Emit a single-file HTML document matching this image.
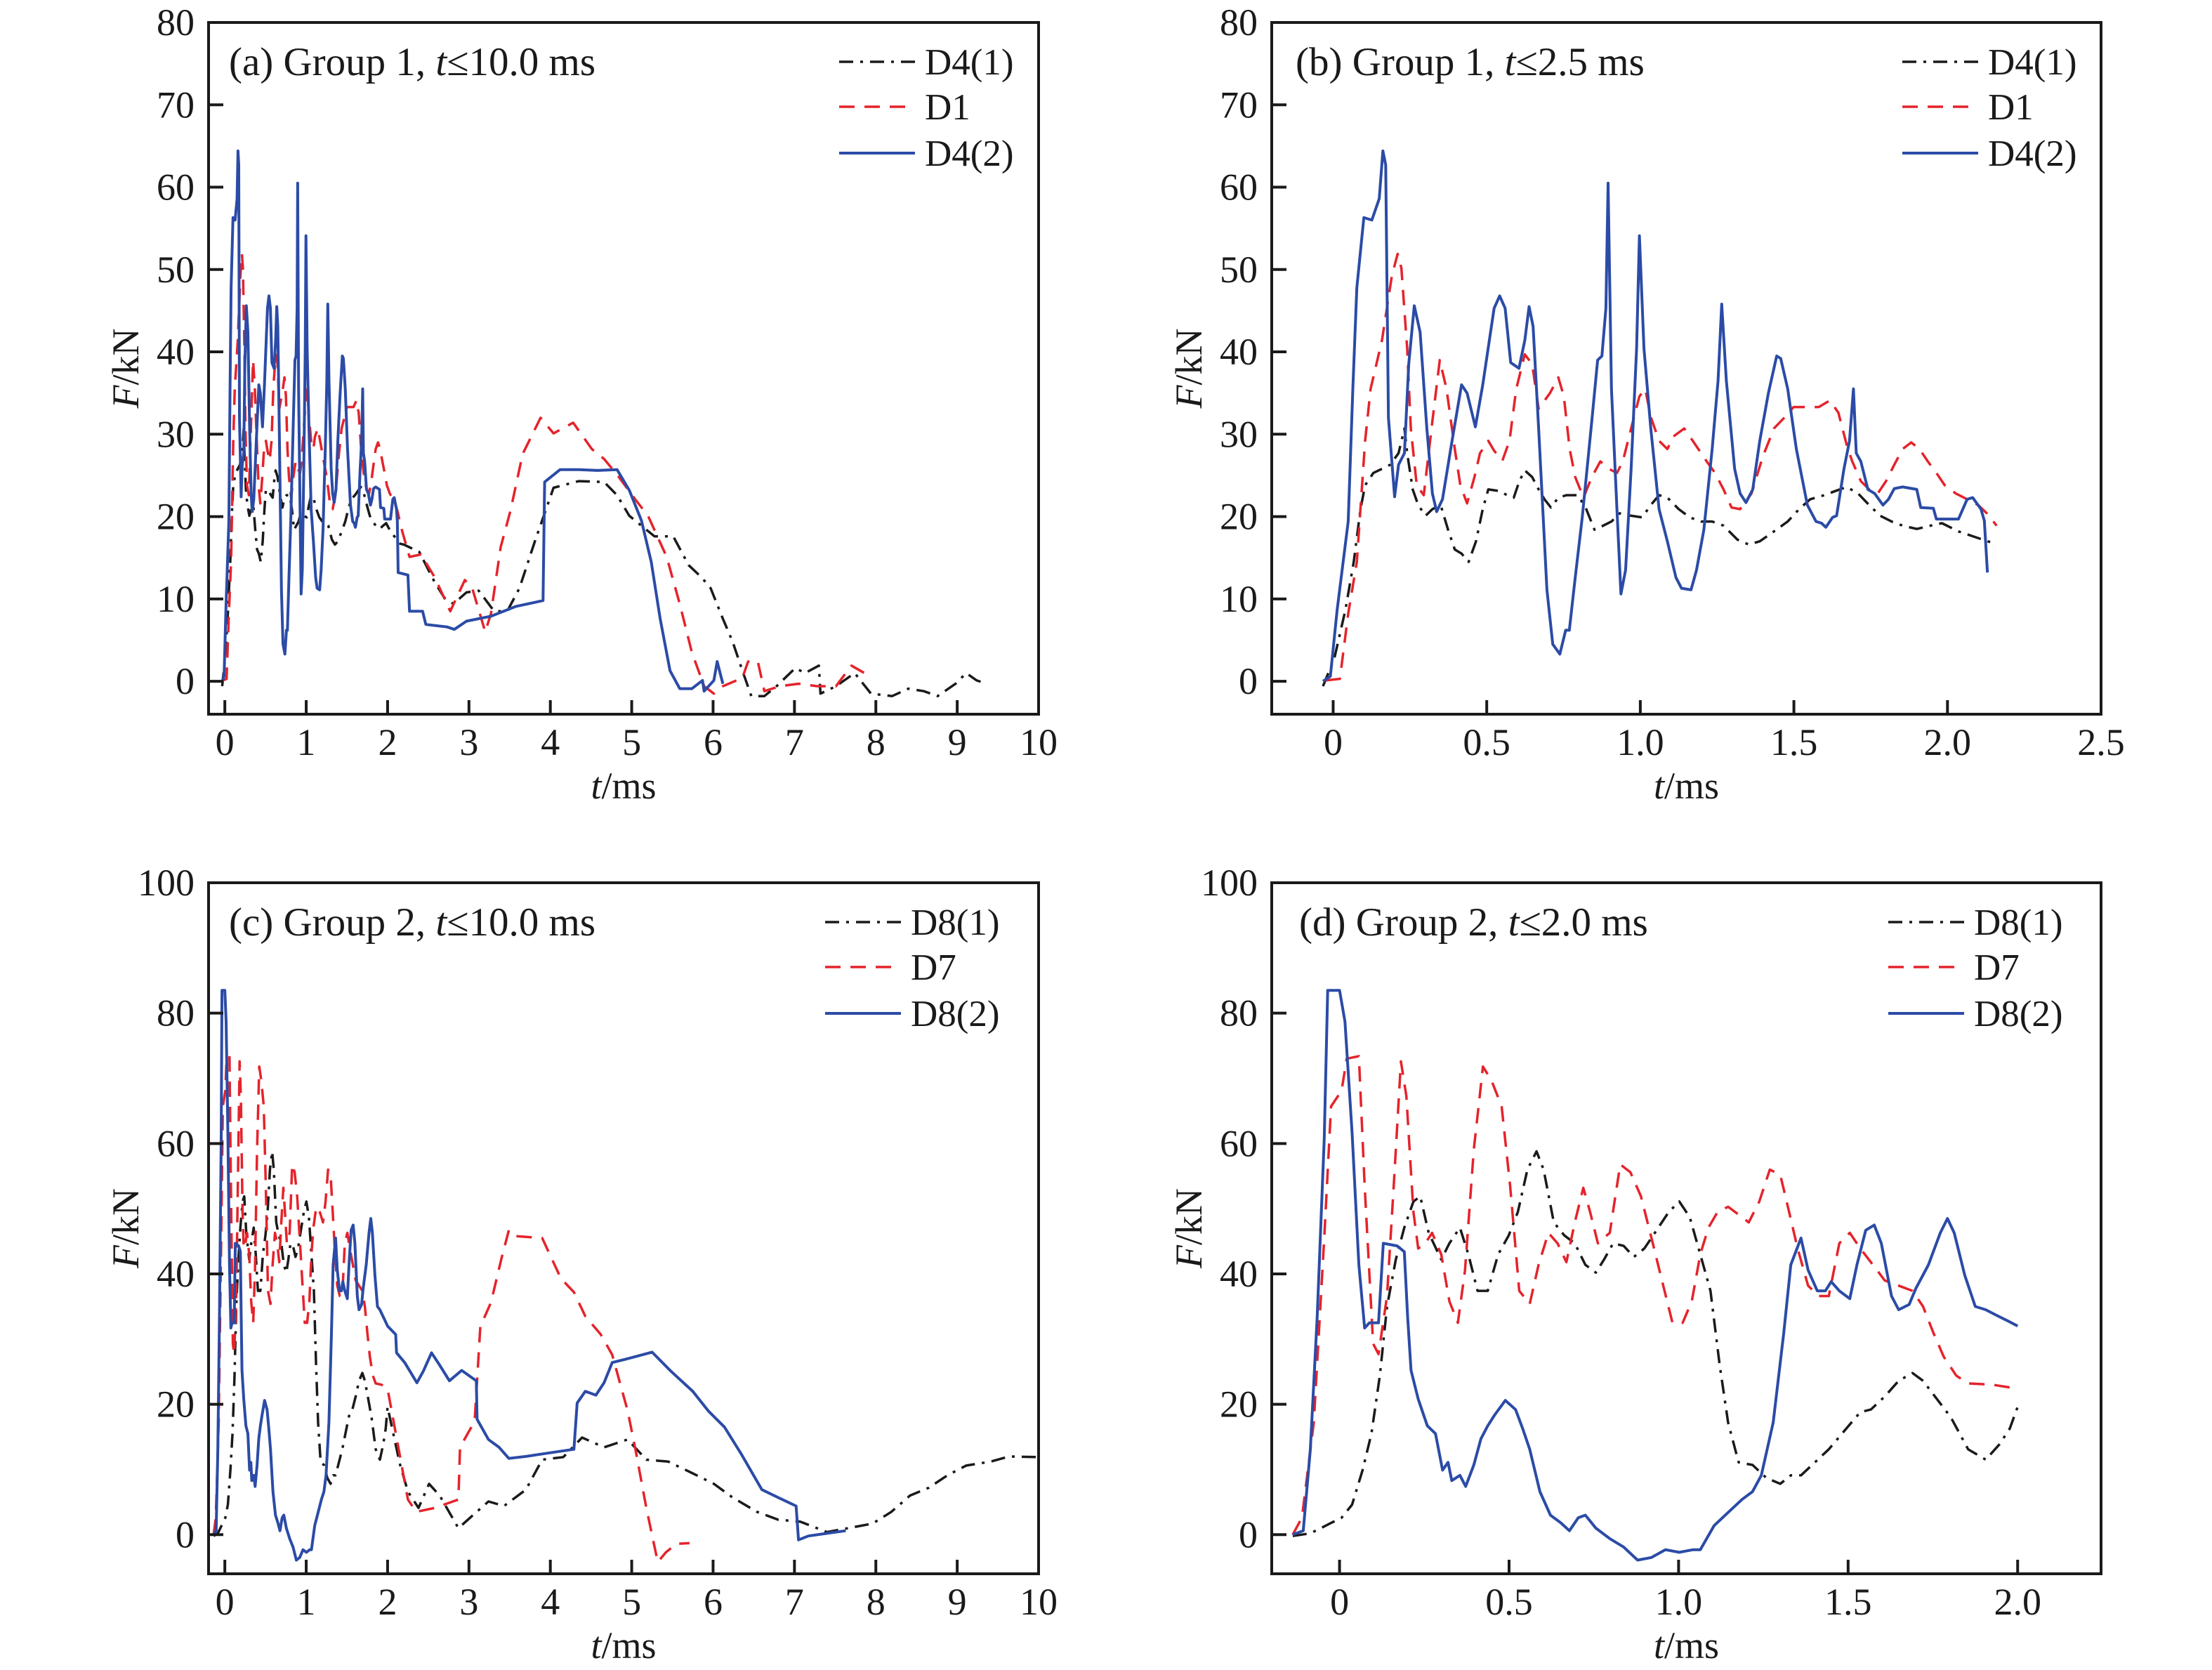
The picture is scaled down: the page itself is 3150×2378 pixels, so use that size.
<!DOCTYPE html>
<html><head><meta charset="utf-8"><style>
html,body{margin:0;padding:0;background:#fff;}
svg{display:block;font-family:"Liberation Serif",serif;}
</style></head><body>
<svg id="fig" xmlns="http://www.w3.org/2000/svg" width="3150" height="2378" viewBox="0 0 3150 2378"></svg>
<script>
// ---------- Group 1 data (t in ms, F in kN) ----------
const g1_t_D41 = [-0.033,0.004,0.04,0.067,0.089,0.104,0.131,0.159,0.186,0.213,0.232,0.241,0.259,0.277,0.301,0.323,0.35,0.374,0.396,0.418,0.441,0.465,0.487,0.505,0.542,0.566,0.588,0.606,0.624,0.648,0.669,0.688,0.709,0.733,0.76,0.797,0.824,0.851,0.879,0.906,0.933,0.97,1.006,1.034,1.061,1.088,1.125,1.161,1.198,1.234,1.271,1.316,1.353,1.389,1.435,1.48,1.517,1.553,1.599,1.635,1.672,1.709,1.745,1.781,1.818,1.854,1.9,1.945,1.982,2.036,2.091,2.155,2.2,2.39,2.58,2.7,2.81,2.97,3.12,3.31,3.47,3.62,3.81,4.04,4.35,4.66,4.82,4.97,5.28,5.51,5.7,5.86,5.97,6.12,6.24,6.36,6.47,6.63,6.78,7.01,7.13,7.3,7.32,7.51,7.74,7.94,8.2,8.4,8.59,8.76,8.98,9.11,9.24,9.36];
const g1_F_D41 = [-0.6,2.8,8.7,14.5,20.9,23.8,25.3,25.8,26.3,27.7,30.7,27.7,23.3,21.4,20.1,20.9,21.4,18.4,16,15.5,14.5,17,20.9,23.3,23.1,22.6,22.3,24.3,25.6,24.8,23.3,22.1,21.1,22.3,22.6,22.6,20.9,18.4,18.9,19.4,20.4,20.1,19.9,21.4,22.6,22.3,20.9,19.9,19.4,19.4,18.9,17.2,16.6,17,18.2,19.4,20.9,22.1,22.6,23.1,23.6,22.8,21.4,20.1,19.4,18.9,18.5,18.9,19.2,18.2,17.5,16.7,16.6,15.7,12,10.1,9.4,10.8,11,8.5,8.5,11.3,17,23.5,24.3,24.2,22.6,20.1,17.6,17.6,14.1,12.6,11.3,7.6,4.8,1.3,-1.8,-1.8,-0.6,1.6,1.0,1.9,-1.5,-0.6,1.0,-1.5,-1.8,-0.9,-1.2,-1.8,-0.3,1.0,0.1,-0.3];
const g1_t_D1 = [-0.024,0.022,0.049,0.077,0.104,0.122,0.159,0.177,0.191,0.21,0.222,0.241,0.253,0.272,0.295,0.323,0.347,0.369,0.396,0.414,0.436,0.46,0.478,0.505,0.524,0.551,0.574,0.596,0.624,0.648,0.669,0.706,0.733,0.751,0.77,0.788,0.815,0.842,0.87,0.897,0.924,0.943,0.97,0.997,1.016,1.034,1.061,1.088,1.107,1.143,1.18,1.216,1.243,1.271,1.297,1.325,1.362,1.398,1.435,1.471,1.499,1.526,1.581,1.617,1.645,1.672,1.69,1.718,1.745,1.773,1.8,1.827,1.854,1.882,1.909,1.936,1.964,1.991,2.027,2.064,2.1,2.128,2.16,2.27,2.41,2.58,2.77,2.95,3.04,3.2,3.27,3.39,3.51,3.66,3.88,4.04,4.28,4.51,4.66,4.82,5.05,5.2,5.43,5.59,5.74,5.89,6.01,6.12,6.36,6.43,6.55,6.63,6.82,7.05,7.28,7.51,7.7,7.86];
const g1_F_D1 = [0.1,0.3,8.2,14.5,29.2,35.5,41.4,45.8,49.2,51.9,50.2,40.4,30.7,23.8,22.6,31.6,39,35.5,28.2,23.8,21.6,24.8,27.7,29.2,28,26.8,29.2,35.5,39.7,38.5,33.1,35,36.9,34.6,28.2,24.8,22.3,24.8,26.7,25.8,25.3,26.7,30.7,34.6,35.5,32.1,29.2,28.2,29.7,30.7,28.7,26.7,25.3,23.3,21.1,20.9,22.8,27.2,30.7,32.1,33.3,33.3,33.3,34.1,32.6,28.7,26.7,24.3,23.3,22.8,24.3,26.3,28.2,29,28.2,26.7,25.3,23.8,22.8,22.1,21.4,20.4,18.9,15.1,15.4,12.6,8.5,12.3,11.3,6,8.2,16.3,20.7,27.6,32,30.1,31.4,28.2,27,25.1,22,20.1,15.1,9.4,3.5,-0.6,-1.5,-0.6,0.4,2.4,2.4,-1.2,-0.6,-0.3,-0.6,-0.6,1.9,1.0];
const g1_t_D42 = [-0.033,-0.009,0.013,0.049,0.064,0.077,0.1,0.126,0.15,0.162,0.171,0.18,0.2,0.213,0.232,0.246,0.264,0.283,0.305,0.323,0.337,0.356,0.387,0.418,0.436,0.463,0.487,0.524,0.542,0.56,0.578,0.605,0.624,0.638,0.651,0.669,0.696,0.715,0.738,0.757,0.769,0.788,0.811,0.842,0.861,0.875,0.888,0.895,0.906,0.924,0.937,0.952,0.97,0.988,0.997,1.012,1.034,1.061,1.088,1.116,1.134,1.165,1.183,1.207,1.234,1.253,1.265,1.28,1.307,1.325,1.344,1.366,1.389,1.417,1.444,1.457,1.48,1.508,1.544,1.572,1.59,1.604,1.626,1.639,1.663,1.681,1.694,1.703,1.718,1.741,1.763,1.79,1.808,1.827,1.854,1.9,1.913,1.954,1.964,2.036,2.064,2.082,2.109,2.12,2.13,2.25,2.27,2.43,2.47,2.73,2.82,2.97,3.27,3.58,3.91,3.93,4.12,4.35,4.58,4.82,4.97,5.12,5.24,5.35,5.47,5.59,5.74,5.87,5.89,6.01,6.05,6.12];
const g1_F_D42 = [0,0.6,8.7,19.4,35.5,47.8,56.3,56,58.6,64.4,62.7,32,22.4,26.3,27.7,38.5,45.6,42.4,30.7,22.8,20.6,22.1,29.2,36,35,30.9,36,45.3,46.8,45.3,38.7,38,41.4,45.5,43.1,30.7,11.1,4.5,3.3,6.2,6.2,12.6,19.9,31.6,39,39.5,45.3,60.5,35.5,20.9,10.6,13.5,25.8,40.4,54.1,40.4,30.7,20.9,17,12.6,11.3,11.1,13.5,18.4,28.2,36.5,45.8,36.5,25.8,22.8,21.7,23.3,29.2,35,39.5,39.2,35.5,28.2,21.4,19.4,19.2,18.7,19.9,20.1,25.8,29.2,35.5,27.7,26.7,23.3,22.8,21.4,22.1,23.4,23.6,23.3,21.1,21,19.7,19.7,22.1,22.3,20.9,19.5,13.2,12.9,8.5,8.5,6.9,6.6,6.3,7.3,7.9,9.1,9.8,24.2,25.7,25.7,25.6,25.7,23.2,19.5,14.5,7.6,1.3,-0.9,-0.9,0.1,-1.2,0.1,2.4,-0.3];

// ---------- Group 2 data ----------
const g2_t_D81 = [-0.138,-0.086,-0.055,-0.025,0.006,0.037,0.068,0.094,0.119,0.14,0.166,0.191,0.218,0.238,0.263,0.3,0.324,0.355,0.38,0.407,0.437,0.468,0.499,0.526,0.554,0.581,0.602,0.632,0.663,0.694,0.725,0.756,0.78,0.807,0.838,0.868,0.899,0.93,0.971,1.002,1.033,1.064,1.094,1.121,1.146,1.177,1.218,1.259,1.3,1.331,1.361,1.402,1.443,1.495,1.536,1.567,1.608,1.649,1.69,1.721,1.762,1.803,1.854,1.906,1.947,1.977,2.0,2.15,2.25,2.38,2.51,2.64,2.87,3.04,3.24,3.43,3.7,3.9,4.16,4.39,4.66,4.95,5.18,5.45,5.75,6.01,6.24,6.54,6.8,7.07,7.4,7.66,7.96,8.19,8.42,8.65,8.88,9.11,9.41,9.64,9.97];
const g2_F_D81 = [-0.2,0.2,1,1.8,2.6,4.6,9.9,15.5,24.4,35,42.2,47.1,51.1,51.9,46.3,42.2,44.7,47.1,43,37.4,37.4,43,45.9,49.5,56,58.8,56,47.9,45.9,44.7,41.4,40.2,42.2,44.7,44.3,42.6,43.9,46.3,49.5,51.1,48.7,43,37.4,26.1,17.2,11.1,10.7,8.7,7.8,9.1,9.1,11.1,13.1,16.3,18.8,19.2,21.2,23.6,24.8,23.6,20.8,18,13.1,11.5,13.9,16.3,19.6,10.9,6.6,4.1,7.8,6,1,2.9,5.1,4.4,6.9,11.5,11.9,14.9,13.4,14.6,11.5,11.2,9.4,7.8,5.7,3.5,2.3,2,0.4,1,1.7,3.5,6,7.2,9.1,10.6,11.2,12,11.9];
const g2_t_D7 = [-0.138,-0.111,-0.076,-0.045,-0.025,0.006,0.021,0.057,0.074,0.099,0.115,0.14,0.16,0.181,0.197,0.218,0.232,0.253,0.273,0.3,0.324,0.349,0.37,0.396,0.423,0.448,0.478,0.503,0.53,0.561,0.587,0.616,0.643,0.669,0.694,0.719,0.739,0.762,0.797,0.828,0.858,0.889,0.92,0.951,0.982,1.012,1.039,1.064,1.088,1.115,1.146,1.177,1.207,1.238,1.269,1.3,1.326,1.351,1.382,1.413,1.443,1.474,1.505,1.536,1.573,1.608,1.649,1.69,1.721,1.752,1.782,1.819,1.854,1.926,2.0,2.25,2.35,2.58,2.87,2.89,3.07,3.14,3.27,3.4,3.49,3.57,3.9,4.13,4.29,4.43,4.62,4.76,4.95,5.05,5.18,5.32,5.42,5.55,5.71];
const g2_F_D7 = [0,2.6,17.2,45.5,65.7,68.1,73,73.4,53.6,29.3,27.7,36.6,53.6,72.6,67.3,49.5,43.9,44.7,46.3,43,35.8,32.5,40.5,59.1,71.8,69.7,65.7,53.6,37.4,35.4,41.4,46.3,44.7,41.8,47.9,53.2,49.5,44.7,46.3,56.8,55.6,51.9,45.5,39,32.5,32.5,35.8,43,47.1,49.5,50.3,49.1,47.9,51.1,56,55.2,49.5,43.9,38.2,36.6,36.6,44.7,46.3,43.9,41.4,39,38.2,37.4,35,30.9,27.3,24.4,23.2,23,22.4,5.4,3.5,4.1,5.4,13.4,17.4,31.9,35.6,42.4,46.7,45.8,45.5,39.3,37.2,33.5,30.7,27.6,19,12.8,4.1,-4.2,-2.7,-1.4,-1.3];
const g2_t_D82 = [-0.138,-0.107,-0.086,-0.066,-0.045,-0.035,0,0.016,0.037,0.057,0.074,0.088,0.115,0.129,0.17,0.191,0.201,0.211,0.232,0.259,0.283,0.304,0.32,0.331,0.355,0.372,0.396,0.417,0.437,0.458,0.489,0.519,0.54,0.561,0.591,0.622,0.653,0.678,0.704,0.725,0.756,0.797,0.838,0.879,0.92,0.961,1.002,1.043,1.064,1.105,1.146,1.187,1.218,1.244,1.279,1.31,1.331,1.361,1.382,1.409,1.433,1.45,1.474,1.505,1.526,1.552,1.577,1.598,1.628,1.649,1.68,1.7,1.737,1.772,1.793,1.813,1.844,1.875,1.906,1.936,1.967,2.0,2.1,2.11,2.21,2.36,2.44,2.54,2.64,2.76,2.91,3.09,3.1,3.24,3.37,3.49,3.7,3.96,4.29,4.33,4.43,4.56,4.66,4.76,4.95,5.25,5.48,5.75,5.94,6.14,6.34,6.6,6.8,7.02,7.05,7.17,7.4,7.63];
const g2_F_D82 = [0,0.6,13.1,33.3,60.8,83.5,83.5,78.7,61.7,41.4,31.7,32.5,32.5,44.7,44.3,43.4,33.3,25.2,20.8,16.7,15.5,9.9,11.1,8.3,9.1,7.4,10.7,14.7,16.7,18.4,20.6,19.2,16.3,13.1,6.6,3,1.8,0.6,2.6,3,1,-0.6,-1.9,-3.9,-3.5,-2.3,-2.7,-2.3,-2.3,1.4,3.4,5.4,6.6,9.1,17.2,30.9,41.4,45.5,40.6,37.4,37.4,38.8,37.4,36.2,41.4,46.7,47.5,44.7,36.6,34.5,35.3,37.8,41.4,46.3,48.5,46.3,39.8,35,34.5,33.7,32.9,32,30.7,27.9,26.4,23.3,25.1,27.9,26,23.6,25.2,23.6,17.7,14.6,13.4,11.7,12,12.5,13.1,20.2,22,21.4,23.3,26.4,27,28,25.1,22,19,16.5,12.5,6.9,5.7,4.4,-0.8,-0.2,0.2,0.6];

// ---------- tick labels ----------
const ticksA_x = [0,1,2,3,4,5,6,7,8,9,10];
const ticksAB_y = [0,10,20,30,40,50,60,70,80];
const ticksB_x = [0,0.5,1.0,1.5,2.0,2.5];
const ticksB_xlab = ["0","0.5","1.0","1.5","2.0","2.5"];
const ticksCD_y = [0,20,40,60,80,100];
const ticksD_x = [0,0.5,1.0,1.5,2.0];
const ticksD_xlab = ["0","0.5","1.0","1.5","2.0"];

const NS = "http://www.w3.org/2000/svg";
const svg = document.getElementById('fig');
function mk(tag, attrs, parent){
  const e = document.createElementNS(NS, tag);
  for (const k in attrs) e.setAttribute(k, attrs[k]);
  (parent||svg).appendChild(e);
  return e;
}
const BLUE="#2b4ba6", RED="#e5232b", BLACK="#1a1a1a";

function panel(cfg){
  const g = mk('g', {});
  
  
  const L=cfg.L,R=cfg.R,T=cfg.T,B=cfg.B;
  const sx = v => L + (v-cfg.x0)/(cfg.x1-cfg.x0)*(R-L);
  const sy = v => B - (v-cfg.y0)/(cfg.y1-cfg.y0)*(B-T);
  const cid = 'clip-'+cfg.name;
  const cp = mk('clipPath',{id:cid},g);
  mk('rect',{x:L,y:T,width:R-L,height:B-T},cp);
  const sg = mk('g',{'clip-path':'url(#'+cid+')'},g);
  cfg.series.forEach(s=>{
    let d='';
    for(let i=0;i<s.t.length;i++){
      if (s.t[i] > cfg.tmax) break;
      d += (d?'L':'M') + sx(s.t[i]).toFixed(1)+','+sy(s.F[i]).toFixed(1);
    }
    const p = mk('path',{d:d,fill:'none',stroke:s.color,'stroke-width':s.w,'stroke-dasharray':s.dash||'none','stroke-linejoin':'round'},sg);
    
    
  });
  const fr = mk('rect',{x:L,y:T,width:R-L,height:B-T,fill:'none',stroke:'#1a1a1a','stroke-width':4},g);
  
  
  cfg.xt.forEach((v,i)=>{
    const x=sx(v);
    if (x < R-3) mk('line',{x1:x,y1:B,x2:x,y2:B-20,stroke:'#1a1a1a','stroke-width':4},g);
    const t = mk('text',{x:x,y:B+58,'font-size':54,'text-anchor':'middle',fill:'#1a1a1a'},g);
    t.textContent = cfg.xl ? cfg.xl[i] : String(v);
    
    
  });
  cfg.yt.forEach(v=>{
    const y=sy(v);
    if (y > T+3) mk('line',{x1:L,y1:y,x2:L+21,y2:y,stroke:'#1a1a1a','stroke-width':4},g);
    const t = mk('text',{x:L-20,y:y+18,'font-size':54,'text-anchor':'end',fill:'#1a1a1a'},g);
    t.textContent = String(v);
    
    
  });
  const xt = mk('text',{x:(L+R)/2,y:B+120,'font-size':54,'text-anchor':'middle',fill:'#1a1a1a'},g);
  xt.innerHTML = '<tspan font-style="italic">t</tspan>/ms';
  
  
  const yx = L-100, yy=(T+B)/2;
  const yt = mk('text',{x:yx,y:yy,'font-size':54,'text-anchor':'middle',fill:'#1a1a1a',transform:'rotate(-90 '+yx+' '+yy+')'},g);
  yt.innerHTML = '<tspan font-style="italic">F</tspan>/kN';
  
  
  const pt = mk('text',{x:cfg.titleX,y:T+75,'font-size':57,fill:'#1a1a1a'},g);
  pt.innerHTML = cfg.title[0]+'<tspan font-style="italic">t</tspan>'+cfg.title[1];
  
  
  cfg.series.forEach((s,i)=>{
    const y = T + [56,120,186][i];
    const lg = mk('g',{},g);
    
    
    mk('line',{x1:cfg.legX,y1:y,x2:cfg.legX+108,y2:y,stroke:s.color,'stroke-width':s.w,'stroke-dasharray':s.dash||'none'},lg);
    const tx = mk('text',{x:cfg.legX+122,y:y+18,'font-size':53,fill:'#1a1a1a'},lg);
    tx.textContent = s.label;
  });
}

const DASH_RED = "22 14", DASH_BLK = "20 10 4 10";
panel({name:'panel-a',L:297,R:1479,T:32,B:1017,x0:-0.2,x1:10,y0:-4,y1:80,tmax:99,
  xt:ticksA_x,yt:ticksAB_y,titleX:326,title:['(a) Group 1, ','≤10.0 ms'],legX:1195,
  series:[{t:g1_t_D41,F:g1_F_D41,color:BLACK,w:3.5,dash:DASH_BLK,label:'D4(1)'},
          {t:g1_t_D1,F:g1_F_D1,color:RED,w:3.5,dash:DASH_RED,label:'D1'},
          {t:g1_t_D42,F:g1_F_D42,color:BLUE,w:4,label:'D4(2)'}]});
panel({name:'panel-b',L:1811,R:2992,T:32,B:1017,x0:-0.2,x1:2.5,y0:-4,y1:80,tmax:2.19,
  xt:ticksB_x,xl:ticksB_xlab,yt:ticksAB_y,titleX:1845,title:['(b) Group 1, ','≤2.5 ms'],legX:2709,
  series:[{t:g1_t_D41,F:g1_F_D41,color:BLACK,w:3.5,dash:DASH_BLK,label:'D4(1)'},
          {t:g1_t_D1,F:g1_F_D1,color:RED,w:3.5,dash:DASH_RED,label:'D1'},
          {t:g1_t_D42,F:g1_F_D42,color:BLUE,w:4,label:'D4(2)'}]});
panel({name:'panel-c',L:297,R:1479,T:1257,B:2241,x0:-0.2,x1:10,y0:-6,y1:100,tmax:99,
  xt:ticksA_x,yt:ticksCD_y,titleX:326,title:['(c) Group 2, ','≤10.0 ms'],legX:1175,
  series:[{t:g2_t_D81,F:g2_F_D81,color:BLACK,w:3.5,dash:DASH_BLK,label:'D8(1)'},
          {t:g2_t_D7,F:g2_F_D7,color:RED,w:3.5,dash:DASH_RED,label:'D7'},
          {t:g2_t_D82,F:g2_F_D82,color:BLUE,w:4,label:'D8(2)'}]});
panel({name:'panel-d',L:1811,R:2992,T:1257,B:2241,x0:-0.2,x1:2.246,y0:-6,y1:100,tmax:2.01,
  xt:ticksD_x,xl:ticksD_xlab,yt:ticksCD_y,titleX:1850,title:['(d) Group 2, ','≤2.0 ms'],legX:2689,
  series:[{t:g2_t_D81,F:g2_F_D81,color:BLACK,w:3.5,dash:DASH_BLK,label:'D8(1)'},
          {t:g2_t_D7,F:g2_F_D7,color:RED,w:3.5,dash:DASH_RED,label:'D7'},
          {t:g2_t_D82,F:g2_F_D82,color:BLUE,w:4,label:'D8(2)'}]});
</script>
</body></html>
